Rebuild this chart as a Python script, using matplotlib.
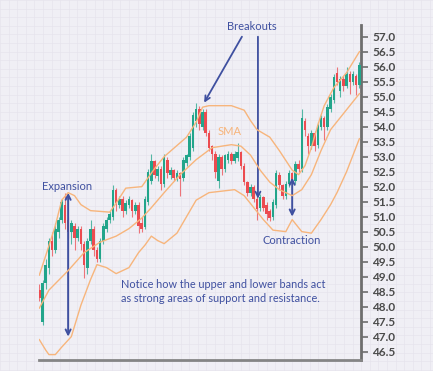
import matplotlib
matplotlib.use("Agg")
import matplotlib.pyplot as plt
import numpy as np

plt.rcParams['font.family'] = ['Lato', 'DejaVu Sans']

# ---------------- data ----------------
opens = [48.55, 47.5, 48.8, 49.3, 50.2, 49.9, 50.5, 50.9, 51.4, 50.9,
         50.5, 50.7, 50.3, 50.6, 50.1, 49.3, 50.2, 50.6, 49.9, 49.6,
         50.2, 50.6, 50.9, 51.0, 51.9, 51.4, 51.6, 51.2, 51.4, 51.55,
         51.2, 51.4, 50.8, 50.65, 51.5, 52.2, 52.85, 52.35, 52.6, 52.1,
         52.9, 52.4, 52.55, 52.3, 52.45, 52.3, 52.8, 53.0, 53.3, 54.2,
         54.6, 54.0, 54.5, 53.8, 53.35, 53.1, 52.2, 53.0, 52.6, 52.9,
         53.1, 52.85, 52.95, 53.15, 52.7, 52.15, 51.8, 52.0, 51.6, 51.3,
         51.65, 51.4, 51.2, 51.0, 51.4, 52.4, 52.05, 51.7, 52.1, 52.45,
         52.2, 52.75, 52.6, 54.2, 53.7, 53.35, 53.8, 53.4, 54.0, 54.3,
         54.0, 54.6, 54.9, 55.8, 55.2, 55.6, 55.35, 55.75, 55.5, 55.7,
         55.4]
closes = [48.3, 48.8, 49.4, 50.2, 49.9, 50.6, 50.9, 51.5, 50.8, 50.5,
          50.8, 50.3, 50.6, 50.1, 49.4, 50.2, 50.6, 49.9, 49.6, 50.2,
          50.7, 50.9, 51.1, 51.9, 51.45, 51.6, 51.2, 51.45, 51.6, 51.2,
          51.4, 50.7, 50.6, 51.6, 52.5, 52.85, 52.4, 52.6, 52.1, 53.0,
          52.45, 52.55, 52.3, 52.45, 52.25, 52.9, 53.05, 53.7, 54.4, 54.6,
          54.1, 54.5, 53.8, 53.3, 53.1, 52.5, 53.0, 52.6, 53.05, 53.1,
          52.85, 53.1, 53.15, 52.7, 52.15, 51.8, 52.0, 51.6, 51.25, 51.65,
          51.3, 51.1, 50.95, 51.5, 52.45, 52.05, 51.7, 52.1, 52.45, 52.2,
          52.75, 52.6, 54.3, 53.9, 53.35, 53.8, 53.35, 54.05, 54.3, 54.0,
          54.65, 55.0, 55.65, 55.5, 55.6, 55.35, 55.75, 55.5, 55.75, 55.4,
          56.05]
highs = [48.75, 48.9, 49.6, 50.3, 50.5, 50.8, 51.0, 51.6, 51.8, 51.0,
         50.9, 50.8, 50.7, 50.7, 50.2, 50.3, 50.9, 50.7, 50.0, 50.3,
         50.8, 51.0, 51.2, 52.05, 51.95, 51.7, 51.7, 51.55, 51.7, 51.6,
         51.5, 51.5, 51.0, 51.7, 52.6, 53.1, 52.9, 52.7, 52.7, 53.1,
         53.0, 52.65, 52.6, 52.55, 52.5, 53.0, 53.1, 53.8, 54.5, 54.8,
         54.7, 54.6, 54.6, 53.9, 53.4, 53.2, 53.1, 53.05, 53.1, 53.2,
         53.15, 53.2, 53.45, 53.2, 52.8, 52.2, 52.1, 52.05, 51.7, 51.75,
         51.7, 51.5, 51.25, 51.6, 52.55, 52.5, 52.1, 52.2, 52.55, 52.5,
         52.85, 52.9, 54.6, 54.3, 53.8, 53.9, 53.85, 54.15, 54.4, 54.35,
         54.75, 55.1, 55.75, 56.0, 55.7, 55.7, 56.0, 55.85, 55.85, 55.75,
         56.15]
lows = [48.2, 47.4, 48.6, 49.1, 49.7, 49.8, 50.3, 50.8, 50.6, 50.3,
        50.1, 49.9, 50.2, 49.9, 48.95, 49.1, 50.1, 49.7, 49.5, 49.5,
        50.1, 50.5, 50.8, 50.9, 51.2, 51.3, 51.0, 51.1, 51.3, 51.0,
        51.1, 50.45, 50.5, 50.6, 51.4, 52.1, 52.3, 52.2, 51.9, 52.0,
        52.3, 52.25, 52.2, 52.2, 51.7, 52.2, 52.7, 52.9, 53.2, 54.0,
        53.9, 53.9, 53.7, 53.2, 52.9, 52.3, 51.95, 52.4, 52.5, 52.8,
        52.75, 52.8, 52.85, 52.6, 52.05, 51.7, 51.7, 51.5, 50.9, 51.2,
        51.2, 50.9, 50.85, 50.9, 51.3, 51.9, 51.6, 51.6, 52.0, 52.1,
        52.1, 52.5, 52.5, 53.7, 53.1, 53.25, 53.2, 53.3, 53.9, 53.55,
        53.9, 54.5, 54.8, 55.4, 55.0, 55.2, 55.3, 55.1, 55.4, 55.05,
        55.3]

upper_idx = [0, 2, 5, 7, 9, 11, 13, 16, 22, 24, 27, 32, 36, 39, 46, 49, 51, 53,
             60, 64, 66, 68, 72, 75, 79, 81, 83, 85, 87, 89, 92, 96, 98, 100]
upper_val = [49.05, 49.7, 50.7, 51.55, 51.8, 51.7, 51.4, 51.2, 51.15, 51.45,
             51.95, 52.0, 52.6, 53.0, 53.65, 54.15, 54.65, 54.7, 54.7, 54.55,
             54.2, 53.9, 53.65, 53.2, 52.55, 52.4, 52.7, 53.3, 54.05, 54.7,
             55.3, 55.8, 56.15, 56.5]

sma_idx = [0, 3, 9, 14, 19, 24, 28, 32, 35, 39, 44, 49, 54, 60, 63, 66, 69, 72,
           75, 79, 82, 85, 88, 91, 94, 97, 100]
sma_val = [47.95, 48.55, 49.2, 49.8, 50.15, 50.35, 50.6, 50.95, 51.3, 51.8,
           52.4, 52.9, 53.3, 53.4, 53.35, 53.05, 52.55, 52.15, 51.9, 51.7,
           51.9, 52.4, 53.2, 53.9, 54.3, 54.7, 55.1]

lower_idx = [0, 2, 3, 5, 7, 10, 13, 16, 18, 21, 24, 28, 31, 33, 35, 37, 39, 43,
             46, 49, 53, 61, 64, 67, 70, 73, 77, 79, 82, 85, 88, 91, 93, 96, 98, 100]
lower_val = [46.9, 46.55, 46.4, 46.4, 46.65, 47.0, 48.05, 48.9, 49.4, 49.3,
             49.1, 49.3, 49.8, 50.05, 50.35, 50.2, 50.1, 50.45, 51.0, 51.55,
             51.8, 51.9, 51.7, 51.3, 50.9, 50.55, 50.5, 50.9, 50.5, 50.45,
             50.9, 51.4, 51.8, 52.5, 53.05, 53.6]

yticks = [46.5, 47.0, 47.5, 48.0, 48.5, 49.0, 49.5, 50.0, 50.5, 51.0, 51.5,
          52.0, 52.5, 53.0, 53.5, 54.0, 54.5, 55.0, 55.5, 56.0, 56.5, 57.0]

# ---------------- style ----------------
BG = '#f0eff5'
GRID = '#e6e4ed'
GREEN = '#22a58b'
RED = '#ec4b50'
ORANGE = '#f7b57c'
BLUE = '#3f50a0'

W, H = 433, 371
fig = plt.figure(figsize=(W / 100, H / 100), dpi=100, facecolor=BG)

# graph-paper background
bg = fig.add_axes([0, 0, 1, 1], zorder=0)
bg.set_xlim(0, W)
bg.set_ylim(H, 0)
bg.set_facecolor(BG)
for gx in np.arange(0, W, 8.6):
    bg.axvline(gx, color=GRID, lw=0.5)
for gy in np.arange(0, H, 8.6):
    bg.axhline(gy, color=GRID, lw=0.5)
bg.axis('off')

ax = fig.add_axes([39 / W, 11 / H, 322 / W, 335 / H], zorder=1)
ax.patch.set_alpha(0)

x = np.arange(len(opens))
o = np.array(opens)
c = np.array(closes)
colors = [GREEN if cc >= oo else RED for oo, cc in zip(o, c)]

ax.vlines(x, lows, highs, colors=colors, lw=0.8, alpha=0.75, zorder=2)
ax.bar(x, np.abs(c - o), bottom=np.minimum(o, c), width=0.8,
       color=colors, zorder=3, linewidth=0)

ax.plot(upper_idx, upper_val, color=ORANGE, lw=1.0, zorder=4)
ax.plot(sma_idx, sma_val, color=ORANGE, lw=1.0, zorder=4)
ax.plot(lower_idx, lower_val, color=ORANGE, lw=1.0, zorder=4)

ax.set_xlim(-0.1, 100.5)
ax.set_ylim(46.22, 57.39)

for s in ['left', 'top']:
    ax.spines[s].set_visible(False)
ax.spines['right'].set_color('#6e6e6e')
ax.spines['right'].set_linewidth(2)
ax.spines['bottom'].set_color('#858585')
ax.spines['bottom'].set_linewidth(2)

ax.set_xticks([])
ax.yaxis.tick_right()
ax.set_yticks(yticks)
ax.set_yticklabels([f'{v:.1f}' for v in yticks])
ax.tick_params(axis='y', direction='out', length=5, width=1.2, color='#6e6e6e',
               labelsize=8.5, labelcolor='#4a4a4a', pad=3)
for lab in ax.get_yticklabels():
    lab.set_fontweight('bold')

# ---------------- annotations ----------------
ap1 = dict(arrowstyle='<->', color=BLUE, lw=1.4, mutation_scale=9,
           shrinkA=0, shrinkB=0)
ap2 = dict(arrowstyle='->', color=BLUE, lw=1.3, mutation_scale=9,
           shrinkA=0, shrinkB=0)

# Expansion
ax.annotate('', xy=(9, 51.8), xytext=(9, 47.0), arrowprops=ap1)
ax.text(8.8, 52.0, 'Expansion', color=BLUE, fontsize=8, ha='center', va='center')

# Contraction
ax.annotate('', xy=(79, 52.3), xytext=(79, 51.0), arrowprops=ap1)
ax.text(79, 50.2, 'Contraction', color=BLUE, fontsize=8, ha='center', va='center')

# Breakouts
ax.annotate('', xy=(51.5, 54.8), xytext=(63.3, 57.0), arrowprops=ap2)
ax.annotate('', xy=(68.3, 51.6), xytext=(68.3, 57.0), arrowprops=ap2)
ax.text(66.3, 57.35, 'Breakouts', color=BLUE, fontsize=8, ha='center', va='center',
        clip_on=False)

# SMA label
ax.text(59.5, 53.85, 'SMA', color=ORANGE, fontsize=8, ha='center', va='center')

# Notice text
ax.text(25.4, 48.5, 'Notice how the upper and lower bands act\nas strong areas of support and resistance.',
        color=BLUE, fontsize=7.8, ha='left', va='center', linespacing=1.25)

fig.savefig('out.png', dpi=100, facecolor=BG)
